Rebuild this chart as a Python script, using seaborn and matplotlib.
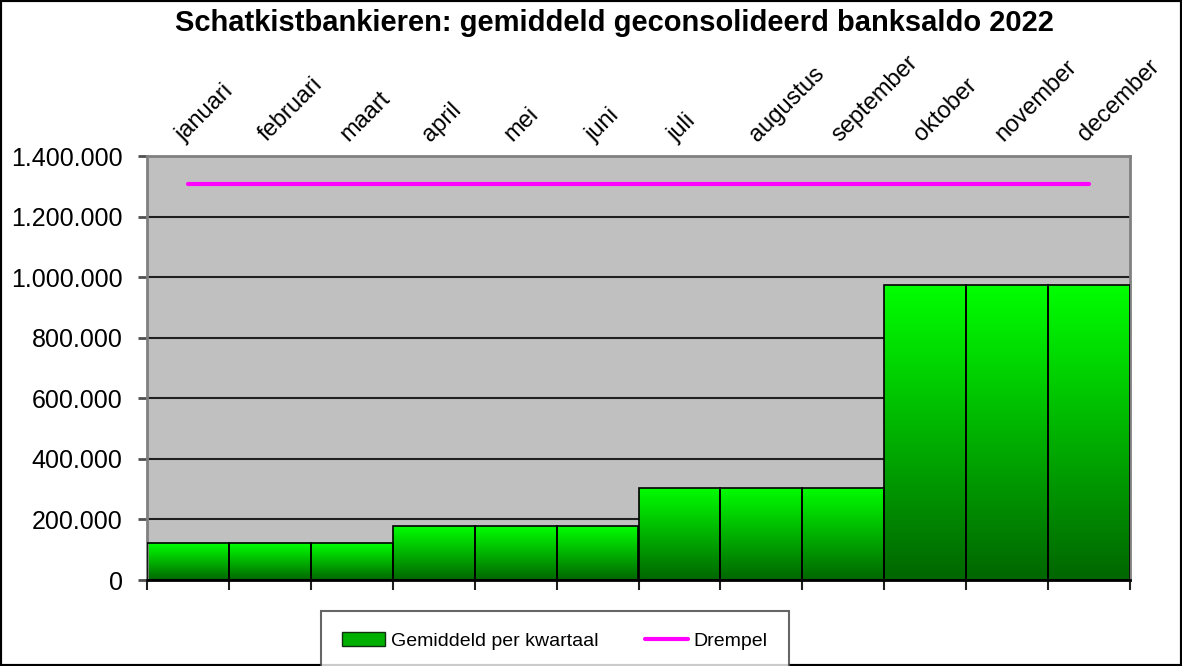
import matplotlib
matplotlib.use("Agg")
import matplotlib.pyplot as plt
import seaborn as sns
import numpy as np
import pandas as pd
from matplotlib.colors import LinearSegmentedColormap
from matplotlib.patches import Rectangle, Patch
from matplotlib.lines import Line2D
from matplotlib.ticker import FuncFormatter

maanden = ['januari', 'februari', 'maart', 'april', 'mei', 'juni', 'juli',
           'augustus', 'september', 'oktober', 'november', 'december']
gemiddeld = [122000, 122000, 122000, 178000, 178000, 178000,
             304000, 304000, 304000, 974000, 974000, 974000]
drempel = [1307000] * 12

df = pd.DataFrame({'Maand': maanden, 'Gemiddeld': gemiddeld, 'Drempel': drempel})

sns.set_style('white')
plt.rcParams['font.family'] = ['Liberation Sans', 'DejaVu Sans']
plt.rcParams['text.color'] = 'black'
plt.rcParams['xtick.labelcolor'] = 'black'
plt.rcParams['ytick.labelcolor'] = 'black'

fig = plt.figure(figsize=(11.82, 6.66), dpi=100)
ax = fig.add_axes([147 / 1182, 86 / 666, 983 / 1182, 424 / 666])
ax.set_facecolor('#c0c0c0')

sns.barplot(data=df, x='Maand', y='Gemiddeld', width=1.0, ax=ax,
            color='#00ff00', edgecolor='black', linewidth=1.2, zorder=3)

# verloop van lichtgroen (boven) naar donkergroen (onder)
groen = LinearSegmentedColormap.from_list('groen', ['#006600', '#00ff00'])
grad = np.linspace(0, 1, 256).reshape(-1, 1)
for bar in ax.patches:
    x0, y0 = bar.get_x(), bar.get_y()
    w, h = bar.get_width(), bar.get_height()
    im = ax.imshow(grad, cmap=groen, origin='lower', aspect='auto',
                   extent=[x0, x0 + w, y0, y0 + h], zorder=2.5)
    im.set_clip_path(bar)
    bar.set_facecolor('none')

sns.lineplot(data=df, x='Maand', y='Drempel', color='#ff00ff', linewidth=3,
             ax=ax, zorder=4, legend=False)

ax.set_xlim(-0.5, 11.5)
ax.set_ylim(0, 1400000)
ax.set_yticks(np.arange(0, 1400001, 200000))
ax.yaxis.set_major_formatter(FuncFormatter(lambda v, p: f'{int(v):,}'.replace(',', '.')))
ax.grid(axis='y', color='#202020', linewidth=1.5, zorder=1)
ax.grid(axis='x', visible=False)
ax.set_axisbelow(True)

# maandlabels boven, streepjes onder op de grenzen
ax.set_xticks(np.arange(12))
ax.set_xticklabels(maanden)
ax.tick_params(axis='x', which='major', bottom=False, top=False,
               labelbottom=False, labeltop=True, labelsize=17, pad=4)
for lbl in ax.get_xticklabels():
    lbl.set_rotation(45)
    lbl.set_rotation_mode('anchor')
    lbl.set_ha('left')
    lbl.set_va('bottom')
ax.set_xticks(np.arange(-0.5, 12, 1), minor=True)
ax.tick_params(axis='x', which='minor', bottom=True, length=7, width=1.5, color='#202020')
ax.tick_params(axis='y', left=True, length=6.5, width=2, color='#505050',
               labelsize=18, pad=11)

ax.set_xlabel('')
ax.set_ylabel('')
for side in ['left', 'top', 'right']:
    ax.spines[side].set_color('#808080')
    ax.spines[side].set_linewidth(2)
ax.spines['bottom'].set_color('black')
ax.spines['bottom'].set_linewidth(2)

fig.text(0.52, 0.966, 'Schatkistbankieren: gemiddeld geconsolideerd banksaldo 2022',
         ha='center', va='center', fontsize=21, fontweight='bold')

handles = [Patch(facecolor='#00b000', edgecolor='#103010', label='Gemiddeld per kwartaal'),
           Line2D([0], [0], color='#ff00ff', linewidth=3, label='Drempel')]
leg = fig.legend(handles=handles, loc='upper center', bbox_to_anchor=(555 / 1182, 55 / 666),
                 ncol=2, frameon=True, fontsize=14, fancybox=False, borderpad=1.1,
                 borderaxespad=0, columnspacing=2.4, handlelength=2.2, handletextpad=0.3)
leg.get_frame().set_edgecolor('#404040')
leg.get_frame().set_linewidth(1.5)

fig.patches.append(Rectangle((0, 0), 1, 1, transform=fig.transFigure, fill=False,
                             edgecolor='black', linewidth=3))

plt.savefig('out.png', dpi=100)
plt.close()
